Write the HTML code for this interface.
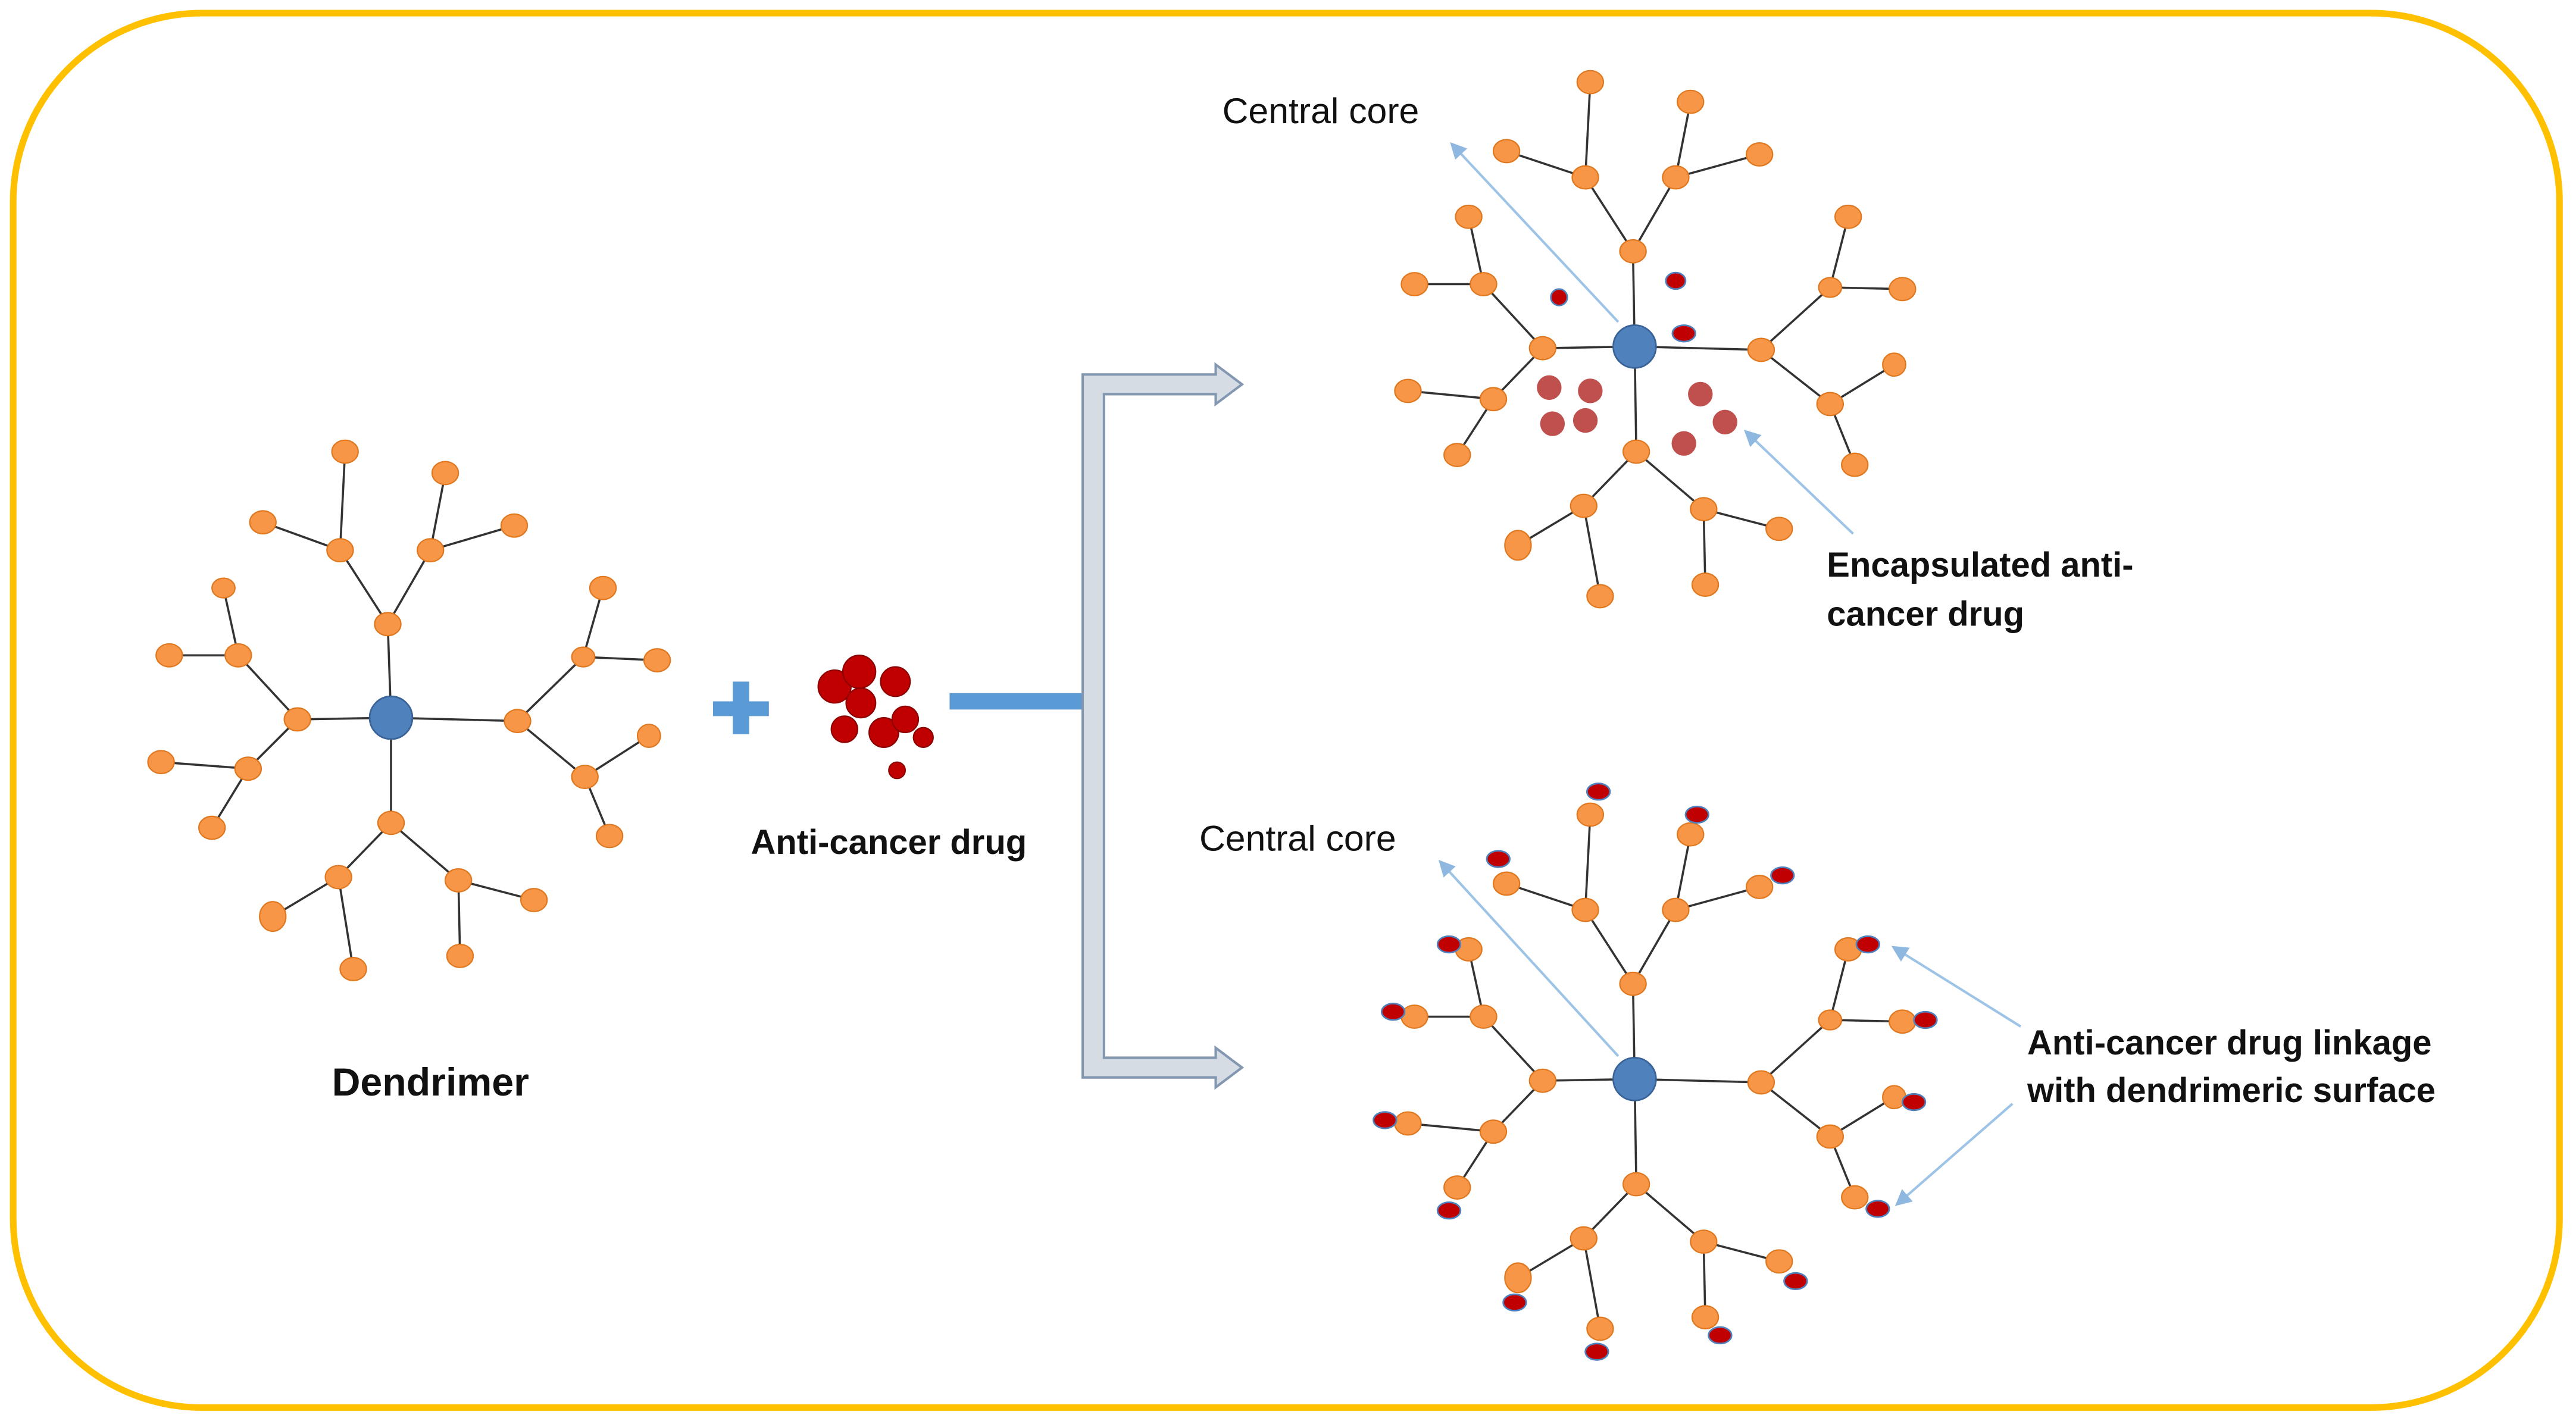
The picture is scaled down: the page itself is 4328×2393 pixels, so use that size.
<!DOCTYPE html>
<html><head><meta charset="utf-8"><style>
html,body{margin:0;padding:0;background:#fff;}
svg{display:block;}
text{font-family:"Liberation Sans",sans-serif;}
</style></head><body>
<svg width="4328" height="2393" viewBox="0 0 1568 867" xmlns="http://www.w3.org/2000/svg">
<defs>
<marker id="ah" markerWidth="10" markerHeight="10" refX="8" refY="5" orient="auto" markerUnits="userSpaceOnUse"><path d="M0,0 L10,5 L0,10 z" fill="#8FB8E0"/></marker>
</defs>
<rect x="8" y="8" width="1550" height="849" rx="115" fill="#fff" stroke="#FFC000" stroke-width="4"/>

<g stroke="#333" stroke-width="1.3">
<line x1="238" y1="437" x2="236" y2="380"/><line x1="238" y1="437" x2="181" y2="438"/><line x1="238" y1="437" x2="315" y2="439"/><line x1="238" y1="437" x2="238" y2="501"/>
<line x1="236" y1="380" x2="207" y2="335"/><line x1="236" y1="380" x2="262" y2="335"/>
<line x1="207" y1="335" x2="160" y2="318"/><line x1="207" y1="335" x2="210" y2="275"/>
<line x1="262" y1="335" x2="271" y2="288"/><line x1="262" y1="335" x2="313" y2="320"/>
<line x1="181" y1="438" x2="145" y2="399"/><line x1="181" y1="438" x2="151" y2="468"/>
<line x1="145" y1="399" x2="103" y2="399"/><line x1="145" y1="399" x2="136" y2="358"/>
<line x1="151" y1="468" x2="98" y2="464"/><line x1="151" y1="468" x2="129" y2="504"/>
<line x1="315" y1="439" x2="355" y2="400"/><line x1="315" y1="439" x2="356" y2="473"/>
<line x1="355" y1="400" x2="367" y2="358"/><line x1="355" y1="400" x2="400" y2="402"/>
<line x1="356" y1="473" x2="395" y2="448"/><line x1="356" y1="473" x2="371" y2="509"/>
<line x1="238" y1="501" x2="206" y2="534"/><line x1="238" y1="501" x2="279" y2="536"/>
<line x1="206" y1="534" x2="166" y2="558"/><line x1="206" y1="534" x2="215" y2="590"/>
<line x1="279" y1="536" x2="325" y2="548"/><line x1="279" y1="536" x2="280" y2="582"/>
</g>
<g fill="#F79646" stroke="#E07820" stroke-width="0.8">
<ellipse cx="236" cy="380" rx="8" ry="7"/><ellipse cx="181" cy="438" rx="8" ry="7"/><ellipse cx="315" cy="439" rx="8" ry="7"/><ellipse cx="238" cy="501" rx="8" ry="7"/>
<ellipse cx="207" cy="335" rx="8" ry="7"/><ellipse cx="262" cy="335" rx="8" ry="7"/><ellipse cx="160" cy="318" rx="8" ry="7"/><ellipse cx="210" cy="275" rx="8" ry="7"/>
<ellipse cx="271" cy="288" rx="8" ry="7"/><ellipse cx="313" cy="320" rx="8" ry="7"/><ellipse cx="145" cy="399" rx="8" ry="7"/><ellipse cx="151" cy="468" rx="8" ry="7"/>
<ellipse cx="103" cy="399" rx="8" ry="7"/><ellipse cx="136" cy="358" rx="7" ry="6"/><ellipse cx="98" cy="464" rx="8" ry="7"/><ellipse cx="129" cy="504" rx="8" ry="7"/>
<ellipse cx="355" cy="400" rx="7" ry="6"/><ellipse cx="356" cy="473" rx="8" ry="7"/><ellipse cx="367" cy="358" rx="8" ry="7"/><ellipse cx="400" cy="402" rx="8" ry="7"/>
<ellipse cx="395" cy="448" rx="7" ry="7"/><ellipse cx="371" cy="509" rx="8" ry="7"/><ellipse cx="206" cy="534" rx="8" ry="7"/><ellipse cx="279" cy="536" rx="8" ry="7"/>
<ellipse cx="166" cy="558" rx="8" ry="9"/><ellipse cx="215" cy="590" rx="8" ry="7"/><ellipse cx="325" cy="548" rx="8" ry="7"/><ellipse cx="280" cy="582" rx="8" ry="7"/>
</g>
<circle cx="238" cy="437" r="13" fill="#4F81BD" stroke="#3A6397" stroke-width="1"/>
<text x="262" y="667" font-size="24" font-weight="bold" text-anchor="middle" fill="#111">Dendrimer</text>

<rect x="434" y="427" width="34" height="9" fill="#5B9BD5"/>
<rect x="446" y="415" width="10" height="32" fill="#5B9BD5"/>
<g fill="#C00000" stroke="#8B0000" stroke-width="0.8">
<circle cx="508" cy="418" r="10"/><circle cx="523" cy="409" r="10"/><circle cx="545" cy="415" r="9"/><circle cx="524" cy="428" r="9"/>
<circle cx="514" cy="444" r="8"/><circle cx="538" cy="446" r="9"/><circle cx="551" cy="438" r="8"/><circle cx="562" cy="449" r="6"/><circle cx="546" cy="469" r="5"/>
</g>
<text x="541" y="520" font-size="21" font-weight="bold" text-anchor="middle" fill="#111">Anti-cancer drug</text>

<rect x="578" y="422" width="82" height="10" fill="#5B9BD5"/>
<path d="M659,228 H740 V222 L756,234 L740,246 V240 H672 V644 H740 V638 L756,650 L740,662 V656 H659 Z" fill="#D6DCE4" stroke="#8497B0" stroke-width="1.5"/>

<g id="tree" stroke="#333" stroke-width="1.3">
<line x1="995" y1="211" x2="994" y2="153"/><line x1="995" y1="211" x2="939" y2="212"/><line x1="995" y1="211" x2="1072" y2="213"/><line x1="995" y1="211" x2="996" y2="275"/>
<line x1="994" y1="153" x2="965" y2="108"/><line x1="994" y1="153" x2="1020" y2="108"/>
<line x1="965" y1="108" x2="968" y2="50"/><line x1="965" y1="108" x2="917" y2="92"/>
<line x1="1020" y1="108" x2="1029" y2="62"/><line x1="1020" y1="108" x2="1071" y2="94"/>
<line x1="939" y1="212" x2="903" y2="173"/><line x1="939" y1="212" x2="909" y2="243"/>
<line x1="903" y1="173" x2="894" y2="132"/><line x1="903" y1="173" x2="861" y2="173"/>
<line x1="909" y1="243" x2="857" y2="238"/><line x1="909" y1="243" x2="887" y2="277"/>
<line x1="1072" y1="213" x2="1114" y2="175"/><line x1="1072" y1="213" x2="1114" y2="246"/>
<line x1="1114" y1="175" x2="1125" y2="132"/><line x1="1114" y1="175" x2="1158" y2="176"/>
<line x1="1114" y1="246" x2="1153" y2="222"/><line x1="1114" y1="246" x2="1129" y2="283"/>
<line x1="996" y1="275" x2="964" y2="308"/><line x1="996" y1="275" x2="1037" y2="310"/>
<line x1="964" y1="308" x2="924" y2="332"/><line x1="964" y1="308" x2="974" y2="363"/>
<line x1="1037" y1="310" x2="1083" y2="322"/><line x1="1037" y1="310" x2="1038" y2="356"/>
</g>
<g id="nodes" fill="#F79646" stroke="#E07820" stroke-width="0.8">
<ellipse cx="994" cy="153" rx="8" ry="7"/><ellipse cx="939" cy="212" rx="8" ry="7"/><ellipse cx="1072" cy="213" rx="8" ry="7"/><ellipse cx="996" cy="275" rx="8" ry="7"/>
<ellipse cx="965" cy="108" rx="8" ry="7"/><ellipse cx="1020" cy="108" rx="8" ry="7"/><ellipse cx="968" cy="50" rx="8" ry="7"/><ellipse cx="917" cy="92" rx="8" ry="7"/>
<ellipse cx="1029" cy="62" rx="8" ry="7"/><ellipse cx="1071" cy="94" rx="8" ry="7"/><ellipse cx="903" cy="173" rx="8" ry="7"/><ellipse cx="909" cy="243" rx="8" ry="7"/>
<ellipse cx="894" cy="132" rx="8" ry="7"/><ellipse cx="861" cy="173" rx="8" ry="7"/><ellipse cx="857" cy="238" rx="8" ry="7"/><ellipse cx="887" cy="277" rx="8" ry="7"/>
<ellipse cx="1114" cy="175" rx="7" ry="6"/><ellipse cx="1114" cy="246" rx="8" ry="7"/><ellipse cx="1125" cy="132" rx="8" ry="7"/><ellipse cx="1158" cy="176" rx="8" ry="7"/>
<ellipse cx="1153" cy="222" rx="7" ry="7"/><ellipse cx="1129" cy="283" rx="8" ry="7"/><ellipse cx="964" cy="308" rx="8" ry="7"/><ellipse cx="1037" cy="310" rx="8" ry="7"/>
<ellipse cx="924" cy="332" rx="8" ry="9"/><ellipse cx="974" cy="363" rx="8" ry="7"/><ellipse cx="1083" cy="322" rx="8" ry="7"/><ellipse cx="1038" cy="356" rx="8" ry="7"/>
</g>
<circle cx="995" cy="211" r="13" fill="#4F81BD" stroke="#3A6397" stroke-width="1"/>
<g fill="#C00000" stroke="#4F81BD" stroke-width="1">
<ellipse cx="949" cy="181" rx="5" ry="5"/><ellipse cx="1020" cy="171" rx="6" ry="5"/><ellipse cx="1025" cy="203" rx="7" ry="5"/>
</g>
<g fill="#C0504D">
<circle cx="943" cy="236" r="7.5"/><circle cx="968" cy="238" r="7.5"/><circle cx="945" cy="258" r="7.5"/><circle cx="965" cy="256" r="7.5"/>
<circle cx="1035" cy="240" r="7.5"/><circle cx="1050" cy="257" r="7.5"/><circle cx="1025" cy="270" r="7.5"/>
</g>
<line x1="985" y1="196" x2="884" y2="88" stroke="#9DC3E6" stroke-width="1.5" marker-end="url(#ah)"/>
<line x1="1128" y1="325" x2="1063" y2="263" stroke="#9DC3E6" stroke-width="1.5" marker-end="url(#ah)"/>
<text x="744" y="75" font-size="22" fill="#111">Central core</text>
<text x="1112" y="351" font-size="21" font-weight="bold" fill="#111">Encapsulated anti-</text>
<text x="1112" y="381" font-size="21" font-weight="bold" fill="#111">cancer drug</text>

<use href="#tree" transform="translate(0,446)"/>
<use href="#nodes" transform="translate(0,446)"/>
<circle cx="995" cy="657" r="13" fill="#4F81BD" stroke="#3A6397" stroke-width="1"/>
<g fill="#C00000" stroke="#4F81BD" stroke-width="1">
<ellipse cx="973" cy="482" rx="7" ry="5"/><ellipse cx="1033" cy="496" rx="7" ry="5"/><ellipse cx="1085" cy="533" rx="7" ry="5"/>
<ellipse cx="912" cy="523" rx="7" ry="5"/><ellipse cx="882" cy="575" rx="7" ry="5"/><ellipse cx="848" cy="616" rx="7" ry="5"/>
<ellipse cx="843" cy="682" rx="7" ry="5"/><ellipse cx="882" cy="737" rx="7" ry="5"/><ellipse cx="922" cy="793" rx="7" ry="5"/>
<ellipse cx="972" cy="823" rx="7" ry="5"/><ellipse cx="1047" cy="813" rx="7" ry="5"/><ellipse cx="1093" cy="780" rx="7" ry="5"/>
<ellipse cx="1143" cy="736" rx="7" ry="5"/><ellipse cx="1165" cy="671" rx="7" ry="5"/><ellipse cx="1172" cy="621" rx="7" ry="5"/>
<ellipse cx="1137" cy="575" rx="7" ry="5"/>
</g>
<line x1="985" y1="643" x2="877" y2="525" stroke="#9DC3E6" stroke-width="1.5" marker-end="url(#ah)"/>
<line x1="1230" y1="625" x2="1153" y2="577" stroke="#9DC3E6" stroke-width="1.5" marker-end="url(#ah)"/>
<line x1="1225" y1="672" x2="1155" y2="733" stroke="#9DC3E6" stroke-width="1.5" marker-end="url(#ah)"/>
<text x="730" y="518" font-size="22" fill="#111">Central core</text>
<text x="1234" y="642" font-size="21" font-weight="bold" fill="#111">Anti-cancer drug linkage</text>
<text x="1234" y="671" font-size="21" font-weight="bold" fill="#111">with dendrimeric surface</text>
</svg>
</body></html>
